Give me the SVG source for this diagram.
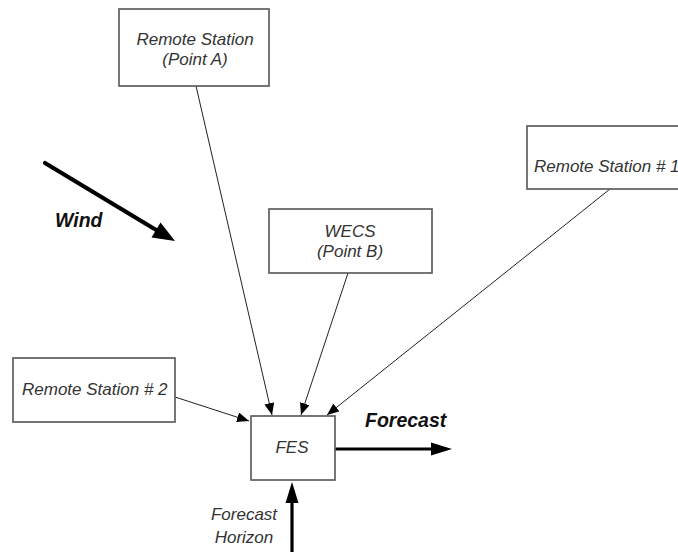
<svg xmlns="http://www.w3.org/2000/svg" width="678" height="552" viewBox="0 0 678 552">
  <style>
    .box { fill: #ffffff; stroke: #5f5f5f; stroke-width: 1.7; }
    .lbl { font-family: "Liberation Sans", Arial, sans-serif; font-style: italic; font-size: 17px; fill: #333333; }
    .mid { text-anchor: middle; }
    .bold { font-family: "Liberation Sans", Arial, sans-serif; font-style: italic; font-weight: bold; font-size: 19.5px; fill: #111111; }
    .thin { stroke: #222222; stroke-width: 1; fill: none; marker-end: url(#arrowSmall); }
    .thick { stroke: #000000; stroke-width: 3.2; fill: none; }
  </style>
  <defs>
    <marker id="arrowSmall" viewBox="0 0 12 10" refX="12" refY="5" markerWidth="12" markerHeight="10" markerUnits="userSpaceOnUse" orient="auto">
      <path d="M0,0 L12,5 L0,10 Z" fill="#000000"/>
    </marker>
  </defs>

  <rect width="678" height="552" fill="#ffffff"/>

  <!-- connectors -->
  <g id="connectors">
    <line class="thin" x1="196" y1="86" x2="272" y2="415"/>
    <line class="thin" x1="348" y1="273" x2="301" y2="415"/>
    <line class="thin" x1="610" y1="189" x2="327" y2="415"/>
    <line class="thin" x1="175" y1="397" x2="249" y2="421"/>

    <!-- output arrow -->
    <line class="thick" x1="335" y1="449" x2="432" y2="449"/>
    <path d="M452,449 L431,442.5 L431,455.5 Z" fill="#000000"/>

    <!-- horizon input arrow -->
    <line class="thick" x1="292" y1="552" x2="292" y2="500"/>
    <path d="M292,482 L285.5,503 L298.5,503 Z" fill="#000000"/>

    <!-- wind direction arrow -->
    <line x1="45" y1="163" x2="157" y2="230.5" stroke="#000000" stroke-width="4.2" stroke-linecap="round"/>
    <path d="M175,241 L151.5,237.5 L160.5,222.5 Z" fill="#000000"/>
  </g>

  <g id="remote-a">
    <rect class="box" x="119" y="9" width="150" height="77"/>
    <text class="lbl mid" x="195" y="45">Remote Station</text>
    <text class="lbl mid" x="195" y="65">(Point A)</text>
  </g>

  <g id="remote-1">
    <rect class="box" x="527" y="126" width="160" height="63"/>
    <text class="lbl" x="534" y="172">Remote Station # 1</text>
  </g>

  <g id="wecs">
    <rect class="box" x="269" y="209" width="163" height="64"/>
    <text class="lbl mid" x="350" y="237">WECS</text>
    <text class="lbl mid" x="350" y="257">(Point B)</text>
  </g>

  <g id="remote-2">
    <rect class="box" x="13" y="358" width="162" height="64"/>
    <text class="lbl" x="22" y="395">Remote Station # 2</text>
  </g>

  <g id="fes">
    <rect class="box" x="251" y="416" width="84" height="64"/>
    <text class="lbl mid" x="292" y="453">FES</text>
  </g>

  <g id="labels">
    <text class="bold" x="55" y="227">Wind</text>
    <text class="bold" x="365" y="427">Forecast</text>
    <text class="lbl mid" x="244" y="520">Forecast</text>
    <text class="lbl mid" x="244" y="543">Horizon</text>
  </g>
</svg>
